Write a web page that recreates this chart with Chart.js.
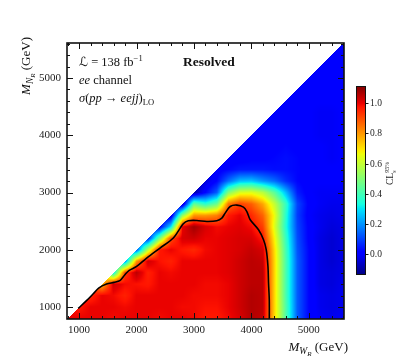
<!DOCTYPE html>
<html><head><meta charset="utf-8">
<script src="https://cdn.jsdelivr.net/npm/chart.js@4.4.1/dist/chart.umd.min.js"></script>
<style>html,body{margin:0;padding:0;background:#fff;}#wrap{width:407px;height:359px;}</style>
</head><body><div id="wrap"><canvas id="c" width="407" height="359"></canvas></div>
<script>
// Grid of mass points (GeV)
const mW = [800,1000,1200,1400,1600,1800,2000,2200,2400,2600,2800,3000,3200,3400,3600,3800,4000,4200,4400,4600,4800,5000,5200,5400,5600];
const mN = [800,1000,1200,1400,1600,1800,2000,2200,2400,2600,2800,3000,3200,3400,3600,3800,4000,4200,4400,4600,4800,5000,5200,5400,5600];
// CLs values: row k is M_N = mN[k], entries run over M_W = mN[k] ... 5600
const cls = [
 [1.00,1.00,1.00,1.00,0.99,1.00,1.00,1.00,0.99,1.00,1.00,0.99,0.97,0.97,0.99,1.02,1.06,1.04,0.72,0.42,0.13,0.02,-0.01,-0.02,-0.01],
 [0.97,1.00,1.00,1.00,0.99,1.00,1.00,1.00,1.00,0.99,0.99,0.98,0.98,1.00,1.03,1.06,1.05,0.72,0.42,0.13,0.02,-0.02,-0.03,-0.02],
 [0.95,1.00,0.99,0.96,1.00,1.00,1.00,1.00,1.00,0.99,0.99,0.99,1.00,1.03,1.06,1.05,0.72,0.41,0.13,0.02,-0.02,-0.03,-0.02],
 [0.75,1.03,0.99,0.98,0.97,1.00,1.00,1.00,1.00,0.99,0.99,1.00,1.03,1.05,1.05,0.72,0.41,0.13,0.02,-0.03,-0.04,-0.02],
 [0.30,0.92,1.05,0.96,1.00,0.99,1.00,1.00,1.00,1.00,1.01,1.03,1.05,1.05,0.72,0.41,0.13,0.02,-0.03,-0.04,-0.03],
 [0.18,0.80,1.03,0.98,0.96,1.00,1.00,1.00,1.00,1.01,1.03,1.05,1.04,0.72,0.41,0.13,0.02,-0.03,-0.05,-0.03],
 [0.12,0.58,0.97,1.00,0.97,0.95,0.99,1.00,1.01,1.02,1.04,1.02,0.71,0.40,0.12,0.02,-0.03,-0.05,-0.03],
 [0.05,0.48,0.90,1.02,1.03,1.00,1.00,1.01,1.02,1.02,0.97,0.68,0.38,0.11,0.01,-0.03,-0.05,-0.03],
 [0.00,0.30,1.00,1.08,1.02,0.99,1.00,1.01,0.99,0.92,0.64,0.35,0.10,0.01,-0.02,-0.04,-0.03],
 [-0.05,0.52,0.80,0.80,0.83,0.97,1.00,0.95,0.87,0.66,0.36,0.09,0.00,-0.02,-0.03,-0.02],
 [-0.08,0.45,0.36,0.46,0.85,0.92,0.88,0.78,0.60,0.38,0.10,0.01,-0.01,-0.02,-0.02],
 [-0.10,0.02,0.13,0.50,0.63,0.64,0.58,0.44,0.25,0.05,0.00,-0.01,-0.01,-0.01],
 [-0.04,0.02,0.15,0.25,0.26,0.20,0.15,0.07,0.02,0.00,0.00,0.00,0.00],
 [0.00,0.02,0.04,0.04,0.04,0.03,0.03,0.02,0.01,0.00,0.00,0.00],
 [0.00,0.00,0.01,0.01,0.02,0.03,0.02,0.00,0.00,-0.01,0.00],
 [0.00,0.00,0.00,0.01,0.02,0.01,0.00,0.00,-0.01,0.00],
 [0.00,0.00,0.00,0.01,0.00,0.00,-0.01,-0.01,0.00],
 [0.00,0.00,0.00,0.00,0.00,-0.01,-0.01,0.00],
 [0.00,0.00,0.00,0.00,-0.01,-0.01,0.00],
 [0.00,0.00,0.00,0.00,0.00,0.00],
 [0.00,0.00,0.00,0.00,0.00],
 [0.01,0.00,0.00,0.00],
 [0.01,0.00,0.00],
 [0.01,0.00],
 [0.00]
];
// Exclusion contour (black line)
const contourMW = [985,1129,1250,1340,1478,1610,1710,1798,1873,2002,2176,2409,2641,2815,2902,3049,3223,3398,3485,3543,3630,3747,3862,3921,3979,4124,4211,4258,4288,4298,4311,4311];
const contourMN = [975,1110,1235,1330,1401,1430,1459,1564,1639,1709,1855,2030,2204,2454,2506,2511,2494,2506,2553,2640,2756,2780,2745,2668,2524,2349,2175,2000,1709,1419,1127,700];
const xTicks = [1000,2000,3000,4000,5000];
const yTicks = [1000,2000,3000,4000,5000];
const cbTicks = [0.0,0.2,0.4,0.6,0.8,1.0];
const cbRange = [-0.14, 1.115];
const axisRange = [790, 5612];
const minorStep = 200;

const SERIF = '"Liberation Serif","DejaVu Serif","DejaVu Sans",serif';
const JR=[[0,0],[0.35,0],[0.66,1],[0.89,1],[1,0.5]];
const JG=[[0,0],[0.125,0],[0.375,1],[0.64,1],[0.91,0],[1,0]];
const JB=[[0,0.5],[0.11,1],[0.34,1],[0.65,0],[1,0]];
function seg(p,t){ if(t<=p[0][0]) return p[0][1]; for(let k=1;k<p.length;k++){ if(t<=p[k][0]){ const a=p[k-1],b=p[k]; return a[1]+(b[1]-a[1])*(t-a[0])/(b[0]-a[0]); } } return p[p.length-1][1]; }
function colorFor(v){ let t=(v-cbRange[0])/(cbRange[1]-cbRange[0]); t=Math.max(0,Math.min(1,t)); return [Math.round(seg(JR,t)*255),Math.round(seg(JG,t)*255),Math.round(seg(JB,t)*255)]; }
function cell(i,j){ return i>=j ? cls[j][i-j] : cls[i][0]; }

const heatmap = {
  id:'heatmap',
  beforeDatasetsDraw(chart){
    const {ctx, chartArea:a, scales:{x,y}} = chart;
    const L=Math.round(a.left), T=Math.round(a.top), W=Math.round(a.right)-L, H=Math.round(a.bottom)-T;
    const off=document.createElement('canvas'); off.width=W; off.height=H;
    const octx=off.getContext('2d'); const img=octx.createImageData(W,H);
    const nx=mW.length, ny=mN.length, sx=mW[1]-mW[0], sy=mN[1]-mN[0];
    for(let py=0;py<H;py++){
      const Y=y.getValueForPixel(T+py+0.5);
      for(let px=0;px<W;px++){
        const X=x.getValueForPixel(L+px+0.5);
        if(Y>X) continue;
        let fi=(X-mW[0])/sx, fj=(Y-mN[0])/sy;
        fi=Math.max(0,Math.min(nx-1,fi)); fj=Math.max(0,Math.min(ny-1,fj));
        const i0=Math.floor(fi), j0=Math.floor(fj), i1=Math.min(nx-1,i0+1), j1=Math.min(ny-1,j0+1);
        const u=fi-i0, w=fj-j0;
        const v=(1-u)*(1-w)*cell(i0,j0)+u*(1-w)*cell(i1,j0)+(1-u)*w*cell(i0,j1)+u*w*cell(i1,j1);
        const c=colorFor(v), k=(py*W+px)*4;
        img.data[k]=c[0]; img.data[k+1]=c[1]; img.data[k+2]=c[2]; img.data[k+3]=255;
      }
    }
    octx.putImageData(img,0,0);
    ctx.drawImage(off,L,T);
  }
};

function runs(ctx,x,y,parts,align){
  let total=0;
  for(const p of parts){ ctx.font=p[1]; if(!p[3]) total+=ctx.measureText(p[0]).width; }
  let cx = align==='right' ? x-total : x;
  for(const p of parts){ ctx.font=p[1]; ctx.fillText(p[0],cx,y+(p[2]||0)); if(!p[3]) cx+=ctx.measureText(p[0]).width; }
}

const decor = {
  id:'decor',
  afterDatasetsDraw(chart){
    const {ctx, chartArea:a, scales:{x,y}} = chart;
    ctx.save();
    ctx.strokeStyle='#111'; ctx.lineWidth=1;
    const ln=(x1,y1,x2,y2)=>{ctx.beginPath();ctx.moveTo(x1,y1);ctx.lineTo(x2,y2);ctx.stroke();};
    for(let v=Math.ceil(axisRange[0]/minorStep)*minorStep; v<=axisRange[1]; v+=minorStep){
      const len = (v%1000===0)?6:3;
      const px=Math.round(x.getPixelForValue(v))+0.5;
      ln(px,a.bottom,px,a.bottom-len); ln(px,a.top,px,a.top+len);
      const py=Math.round(y.getPixelForValue(v))+0.5;
      ln(a.left,py,a.left+len,py); ln(a.right,py,a.right-len,py);
    }
    ctx.lineWidth=1.6;
    ctx.strokeRect(a.left,a.top,a.right-a.left,a.bottom-a.top);

    // colorbar
    const cbL=356, cbR=366, cbT=86, cbB=275;
    for(let py=cbT;py<cbB;py++){
      const v=cbRange[1]-(py+0.5-cbT)/(cbB-cbT)*(cbRange[1]-cbRange[0]);
      const c=colorFor(v); ctx.fillStyle=`rgb(${c[0]},${c[1]},${c[2]})`;
      ctx.fillRect(cbL,py,cbR-cbL,1);
    }
    ctx.lineWidth=1; ctx.strokeStyle='#111';
    ctx.strokeRect(cbL+0.5,cbT+0.5,cbR-cbL-1,cbB-cbT-1);
    ctx.fillStyle='#222'; ctx.font='9.5px '+SERIF; ctx.textBaseline='middle'; ctx.textAlign='left';
    for(const t of cbTicks){
      const py=Math.round(cbB-(t-cbRange[0])/(cbRange[1]-cbRange[0])*(cbB-cbT))+0.5;
      ln(cbR,py,cbR+2.5,py);
      ctx.fillText(t.toFixed(1),cbR+4,py);
    }
    ctx.textBaseline='alphabetic';
    // colorbar label
    ctx.save(); ctx.translate(393,185); ctx.rotate(-Math.PI/2);
    runs(ctx,0,0,[['CL','9.5px '+SERIF],['s','6px '+SERIF,2.5,true],['95%','6px '+SERIF,-4.5]]);
    ctx.restore();

    // annotations
    ctx.fillStyle='#111';
    runs(ctx,79,66,[['\u2112','12.5px '+SERIF],[' = 138 fb','12.5px '+SERIF],['\u22121','8.5px '+SERIF,-5]]);
    runs(ctx,79,84,[['ee','italic 12.5px '+SERIF],[' channel','12.5px '+SERIF]]);
    runs(ctx,79,102,[['\u03c3','italic 12.5px '+SERIF],['(','12.5px '+SERIF],['pp','italic 12.5px '+SERIF],[' \u2192 ','12.5px '+SERIF],['eejj','italic 12.5px '+SERIF],[')','12.5px '+SERIF],['LO','8.5px '+SERIF,3]]);
    runs(ctx,183,66,[['Resolved','bold 13.5px '+SERIF]]);
    // axis titles
    runs(ctx,348,351,[['M','italic 13px '+SERIF],['W','italic 9.5px '+SERIF,3],['R','italic 7px '+SERIF,5],[' (GeV)','13px '+SERIF]],'right');
    ctx.save(); ctx.translate(30,37); ctx.rotate(-Math.PI/2);
    runs(ctx,0,0,[['M','italic 13px '+SERIF],['N','italic 9.5px '+SERIF,3],['R','italic 7px '+SERIF,5],[' (GeV)','13px '+SERIF]],'right');
    ctx.restore();
    ctx.restore();
  }
};

new Chart(document.getElementById('c'), {
  type:'scatter',
  data:{datasets:[{
    label:'contour',
    data: contourMW.map((v,k)=>({x:v,y:contourMN[k]})),
    showLine:true, borderColor:'#000', borderWidth:1.6, pointRadius:0, tension:0.3, fill:false
  }]},
  options:{
    responsive:false, animation:false, devicePixelRatio:1,
    layout:{padding:{left:0,right:63,top:43,bottom:0}},
    plugins:{legend:{display:false}, tooltip:{enabled:false}},
    scales:{
      x:{type:'linear', min:axisRange[0], max:axisRange[1], position:'bottom',
         afterBuildTicks:s=>{s.ticks=xTicks.map(v=>({value:v}));},
         afterFit:s=>{s.height=40;},
         grid:{display:false, drawTicks:false}, border:{display:false},
         ticks:{font:{family:SERIF,size:11}, color:'#222', padding:5, maxRotation:0, autoSkip:false, callback:v=>String(v)}},
      y:{type:'linear', min:axisRange[0], max:axisRange[1], position:'left',
         afterBuildTicks:s=>{s.ticks=yTicks.map(v=>({value:v}));},
         afterFit:s=>{s.width=67;},
         grid:{display:false, drawTicks:false}, border:{display:false},
         ticks:{font:{family:SERIF,size:11}, color:'#222', padding:6, autoSkip:false, callback:v=>String(v)}}
    }
  },
  plugins:[heatmap, decor]
});
</script></body></html>
